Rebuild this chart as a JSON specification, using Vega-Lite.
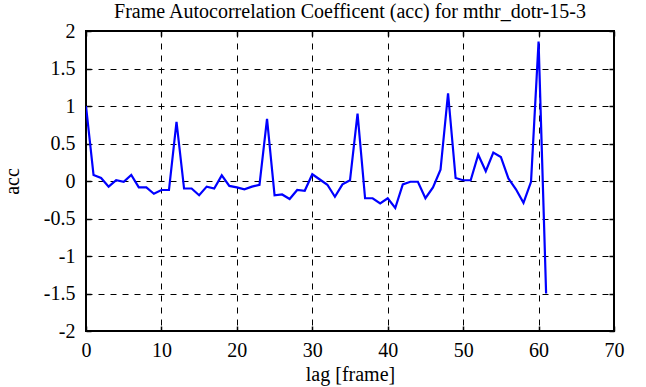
{
  "$schema": "https://vega.github.io/schema/vega-lite/v6.json",
  "width": 528,
  "height": 300,
  "autosize": {"type": "none"},
  "padding": {"left": 86, "top": 31, "right": 32, "bottom": 56},
  "background": "white",
  "title": {
    "text": "Frame Autocorrelation Coefficent (acc) for mthr_dotr-15-3",
    "font": "Liberation Serif",
    "fontSize": 20,
    "fontWeight": "normal",
    "color": "black",
    "offset": 0,
    "dy": 1
  },
  "config": {
    "view": {"stroke": "black", "strokeWidth": 2},
    "axis": {
      "labelFont": "Liberation Serif",
      "titleFont": "Liberation Serif",
      "labelFontSize": 20,
      "titleFontSize": 20,
      "titleFontWeight": "normal",
      "labelColor": "black",
      "titleColor": "black",
      "domain": false,
      "tickColor": "black",
      "tickWidth": 1.5,
      "gridColor": "black",
      "gridDash": [6, 6],
      "gridWidth": 1,
      "gridOpacity": 1
    }
  },
  "data": {
    "values": [
      {"lag": 0, "acc": 1.0},
      {"lag": 1, "acc": 0.08},
      {"lag": 2, "acc": 0.04},
      {"lag": 3, "acc": -0.075},
      {"lag": 4, "acc": 0.01},
      {"lag": 5, "acc": -0.01},
      {"lag": 6, "acc": 0.08},
      {"lag": 7, "acc": -0.085},
      {"lag": 8, "acc": -0.085},
      {"lag": 9, "acc": -0.17},
      {"lag": 10, "acc": -0.12},
      {"lag": 11, "acc": -0.12},
      {"lag": 12, "acc": 0.79},
      {"lag": 13, "acc": -0.1},
      {"lag": 14, "acc": -0.1},
      {"lag": 15, "acc": -0.19},
      {"lag": 16, "acc": -0.075},
      {"lag": 17, "acc": -0.1},
      {"lag": 18, "acc": 0.075},
      {"lag": 19, "acc": -0.066},
      {"lag": 20, "acc": -0.085},
      {"lag": 21, "acc": -0.11},
      {"lag": 22, "acc": -0.075},
      {"lag": 23, "acc": -0.05},
      {"lag": 24, "acc": 0.83},
      {"lag": 25, "acc": -0.19},
      {"lag": 26, "acc": -0.18},
      {"lag": 27, "acc": -0.24},
      {"lag": 28, "acc": -0.12},
      {"lag": 29, "acc": -0.13},
      {"lag": 30, "acc": 0.09},
      {"lag": 31, "acc": 0.02},
      {"lag": 32, "acc": -0.05},
      {"lag": 33, "acc": -0.21},
      {"lag": 34, "acc": -0.045},
      {"lag": 35, "acc": 0.01},
      {"lag": 36, "acc": 0.9},
      {"lag": 37, "acc": -0.23},
      {"lag": 38, "acc": -0.23},
      {"lag": 39, "acc": -0.3},
      {"lag": 40, "acc": -0.23},
      {"lag": 41, "acc": -0.36},
      {"lag": 42, "acc": -0.045},
      {"lag": 43, "acc": -0.01},
      {"lag": 44, "acc": -0.01},
      {"lag": 45, "acc": -0.23},
      {"lag": 46, "acc": -0.085},
      {"lag": 47, "acc": 0.15},
      {"lag": 48, "acc": 1.17},
      {"lag": 49, "acc": 0.04},
      {"lag": 50, "acc": 0.01},
      {"lag": 51, "acc": 0.01},
      {"lag": 52, "acc": 0.35},
      {"lag": 53, "acc": 0.13},
      {"lag": 54, "acc": 0.38},
      {"lag": 55, "acc": 0.32},
      {"lag": 56, "acc": 0.035},
      {"lag": 57, "acc": -0.11},
      {"lag": 58, "acc": -0.29},
      {"lag": 59, "acc": -0.01},
      {"lag": 60, "acc": 1.86},
      {"lag": 61, "acc": -1.5}
    ]
  },
  "resolve": {"axis": {"x": "independent", "y": "independent"}},
  "layer": [
    {
      "mark": {"type": "line", "color": "#0000ff", "strokeWidth": 2.2, "clip": true},
      "encoding": {
        "x": {
          "field": "lag", "type": "quantitative",
          "scale": {"domain": [0, 70], "nice": false, "zero": false},
          "axis": {"orient": "bottom", "values": [0,10,20,30,40,50,60,70], "grid": true, "tickSize": -5, "labelPadding": 14, "labelFlush": false, "labelOverlap": false, "title": "lag [frame]", "titlePadding": 4, "labelExpr": "datum.value"}
        },
        "y": {
          "field": "acc", "type": "quantitative",
          "scale": {"domain": [-2, 2], "nice": false, "zero": false},
          "axis": {"orient": "left", "values": [-2,-1.5,-1,-0.5,0,0.5,1,1.5,2], "grid": true, "tickSize": -5, "labelPadding": 16, "labelFlush": false, "labelOverlap": false, "title": "acc", "titlePadding": 21, "labelExpr": "datum.value"}
        }
      }
    },
    {
      "mark": {"type": "line", "opacity": 0},
      "encoding": {
        "x": {
          "field": "lag", "type": "quantitative",
          "scale": {"domain": [0, 70], "nice": false, "zero": false},
          "axis": {"orient": "top", "values": [0,10,20,30,40,50,60,70], "grid": false, "labels": false, "tickSize": -5, "title": null}
        },
        "y": {
          "field": "acc", "type": "quantitative",
          "scale": {"domain": [-2, 2], "nice": false, "zero": false},
          "axis": {"orient": "right", "values": [-2,-1.5,-1,-0.5,0,0.5,1,1.5,2], "grid": false, "labels": false, "tickSize": -5, "title": null}
        }
      }
    }
  ]
}
